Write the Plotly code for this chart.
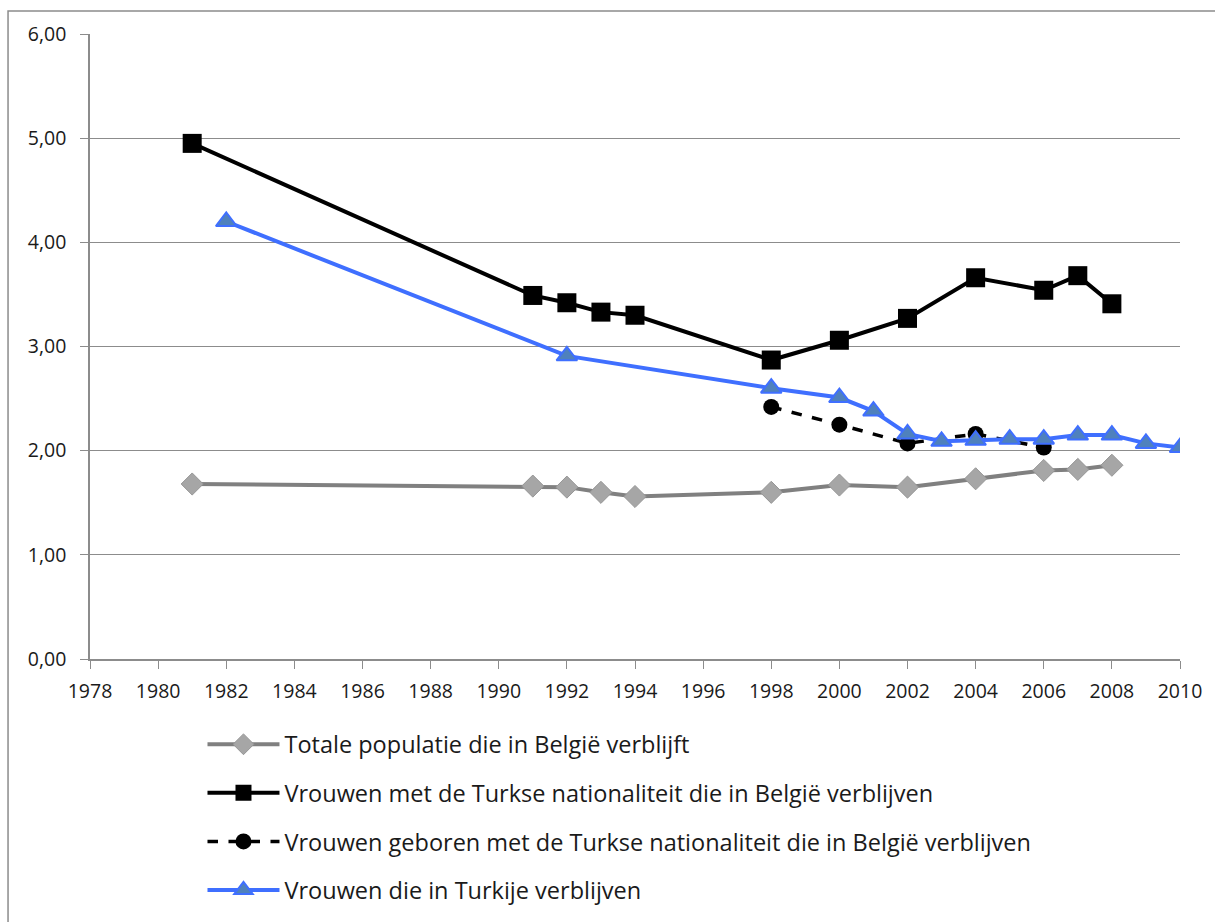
import plotly.graph_objects as go

# Fertility series (children per woman)
years_total = [1981, 1991, 1992, 1993, 1994, 1998, 2000, 2002, 2004, 2006, 2007, 2008]
total_be = [1.68, 1.66, 1.65, 1.60, 1.56, 1.60, 1.67, 1.65, 1.73, 1.81, 1.82, 1.86]

years_tr_nat = [1981, 1991, 1992, 1993, 1994, 1998, 2000, 2002, 2004, 2006, 2007, 2008]
tr_nat_be = [4.95, 3.49, 3.42, 3.33, 3.30, 2.87, 3.06, 3.27, 3.66, 3.54, 3.68, 3.41]

years_tr_born = [1998, 2000, 2002, 2004, 2006]
tr_born_be = [2.42, 2.25, 2.07, 2.16, 2.03]

years_turkey = [1982, 1992, 1998, 2000, 2001, 2002, 2003, 2004, 2005, 2006, 2007, 2008, 2009, 2010]
turkey = [4.20, 2.91, 2.60, 2.51, 2.38, 2.16, 2.09, 2.10, 2.11, 2.11, 2.15, 2.15, 2.07, 2.03]

names = [
    "Totale populatie die in België verblijft",
    "Vrouwen met de Turkse nationaliteit die in België verblijven",
    "Vrouwen geboren met de Turkse nationaliteit die in België verblijven",
    "Vrouwen die in Turkije verblijven",
]

x_ticks = list(range(1978, 2011, 2))
y_ticks = [0, 1, 2, 3, 4, 5, 6]

fig = go.Figure()

fig.add_trace(go.Scatter(
    x=years_total, y=total_be, name=names[0], legendgroup="a", mode="lines+markers",
    line=dict(color="#808080", width=4),
    marker=dict(symbol="diamond", size=17, color="#A6A6A6", line=dict(color="#969696", width=1)),
))
fig.add_trace(go.Scatter(
    x=years_tr_nat, y=tr_nat_be, name=names[1], legendgroup="b", mode="lines+markers",
    line=dict(color="#000000", width=4),
    marker=dict(symbol="square", size=19, color="#000000"),
))
fig.add_trace(go.Scatter(
    x=years_tr_born, y=tr_born_be, name=names[2], legendgroup="c", mode="lines+markers",
    line=dict(color="#000000", width=3.5, dash="dash"),
    marker=dict(symbol="circle", size=16, color="#000000"),
))
fig.add_trace(go.Scatter(
    x=years_turkey, y=turkey, name=names[3], legendgroup="d", mode="lines+markers",
    line=dict(color="#3F6FFF", width=4),
    marker=dict(symbol="triangle-up", size=18, color="#4F81BD", line=dict(color="#3F6FFF", width=2)),
))

# Outer chart-area frame
fig.add_shape(type="rect", xref="paper", yref="paper",
              x0=-0.0752, x1=1.06, y0=-0.46, y1=1.0368,
              line=dict(color="#8C8C8C", width=1.5), fillcolor="rgba(0,0,0,0)", layer="below")

fig.update_layout(
    width=1215, height=922,
    margin=dict(l=90, r=35, t=34, b=263, autoexpand=False),
    paper_bgcolor="white", plot_bgcolor="white",
    separators=",.",
    font=dict(family="'Open Sans', Lato, sans-serif", size=19, color="#1A1A1A"),
    showlegend=True,
    legend=dict(
        x=0.1032, y=-0.1016, xanchor="left", yanchor="top",
        font=dict(size=23.5, color="#1A1A1A"),
        tracegroupgap=15, itemwidth=72,
        bgcolor="rgba(0,0,0,0)",
    ),
    xaxis=dict(
        range=[1978, 2010], tickvals=x_ticks, ticktext=[str(v) for v in x_ticks],
        showgrid=False, zeroline=False,
        showline=True, linecolor="#8C8C8C", linewidth=1.5,
        ticks="outside", ticklen=8, tickcolor="#8C8C8C",
        ticklabelstandoff=6,
        tickfont=dict(size=19.5, color="#1A1A1A"),
    ),
    yaxis=dict(
        range=[0, 6], tickvals=y_ticks, tickformat=".2f",
        showgrid=True, gridcolor="#8C8C8C", gridwidth=1.2, zeroline=False,
        showline=True, linecolor="#8C8C8C", linewidth=1.5,
        ticks="outside", ticklen=8, tickcolor="#8C8C8C",
        ticklabelstandoff=10,
        tickfont=dict(size=19.5, color="#1A1A1A"),
    ),
)

fig.write_html("out.html")
